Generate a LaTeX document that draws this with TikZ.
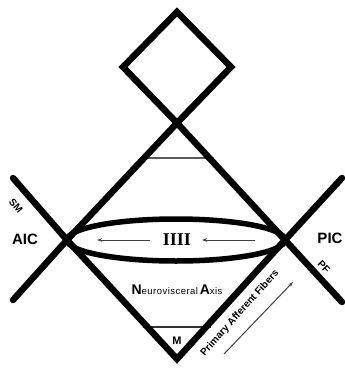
\documentclass[tikz,border=0pt]{standalone}
\usepackage{fontspec}
\setmainfont{Liberation Sans}
\newfontfamily\serifR{Liberation Serif}
\usetikzlibrary{arrows.meta}
\begin{document}
\begin{tikzpicture}[x=1pt,y=-1pt,
  thickln/.style={line width=6.5pt,line join=miter,line cap=round},
  thinln/.style={line width=1.2pt,draw=black!65},
  arr/.style={line width=1pt,draw=black!75,-{Stealth[length=5pt,width=3.5pt]}},
  lbl/.style={font=\bfseries\fontsize{15}{15}\selectfont,inner sep=0pt},
  small/.style={font=\bfseries\fontsize{10}{10}\selectfont,inner sep=0pt}]
\useasboundingbox (0,0) rectangle (345,368);
% key points
\coordinate (Top) at (177,12);
\coordinate (DL) at (123,67);
\coordinate (DR) at (231,67);
\coordinate (T) at (177,123);
\coordinate (L) at (67,240);
\coordinate (R) at (285,240);
\coordinate (B) at (177,359);
\coordinate (UL) at (13,178);
\coordinate (LL) at (13,300);
\coordinate (UR) at (342,178);
\coordinate (LR) at (342,302);
% thin cross lines
\draw[thinln] (140,158) -- (214,158);
\draw[thinln,draw=black!80,line width=1.5pt] (143,327) -- (211,327);
% thick lines
\draw[thickln] (Top) -- (DR) -- (T) -- (DL) -- cycle;
\draw[thickln] (T) -- (L) -- (LL);
\draw[thickln] (T) -- (R) -- (LR);
\draw[thickln] (UL) -- (L) -- (B) -- (R) -- (UR);
% ellipse
\draw[line width=5.5pt] (176,240) ellipse [x radius=109, y radius=21];
% arrows in ellipse
\coordinate (a1s) at (150,240); \coordinate (a1e) at (97,240);
\coordinate (a2s) at (255,240); \coordinate (a2e) at (202,240);
\draw[arr] (a1s) -- (a1e);
\draw[arr] (a2s) -- (a2e);
\node[inner sep=0pt,font=\serifR\bfseries\fontsize{18}{18}\selectfont] (iiii) at (177,240) {IIII};
% labels
\node[lbl] (aic) at (25,239) {AIC};
\node[lbl] (pic) at (330,238) {PIC};
\node[small,rotate=-49] (sm) at (16,206) {SM};
\node[small,rotate=-47] (pf) at (324,267) {PF};
\node[small,font=\bfseries\fontsize{11}{11}\selectfont] (m) at (177,341) {M};
\node[inner sep=0pt] (na) at (177,290) {{\bfseries\fontsize{14}{14}\selectfont N}{\fontsize{9.5}{9.5}\selectfont\addfontfeatures{LetterSpace=5}eurovisceral}\,{\bfseries\fontsize{14}{14}\selectfont A}{\fontsize{9.5}{9.5}\selectfont\addfontfeatures{LetterSpace=5}xis}};
\node[small,rotate=48] (paf) at (240,313) {Primary Afferent Fibers};
\coordinate (ps) at (224,354); \coordinate (pe) at (293,282);
\draw[arr] (ps) -- (pe);
\end{tikzpicture}
\end{document}
